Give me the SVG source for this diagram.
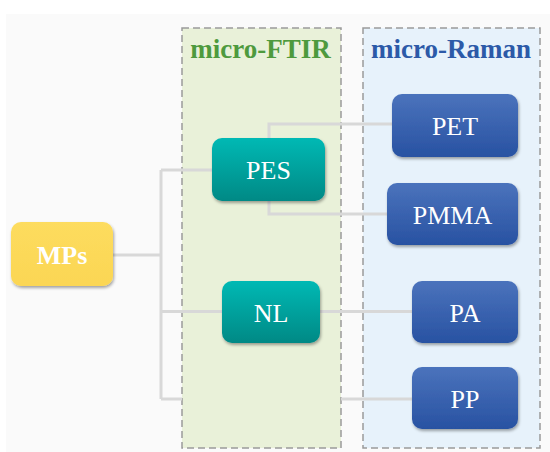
<svg xmlns="http://www.w3.org/2000/svg" width="550" height="452" viewBox="0 0 550 452">
  <defs>
    <linearGradient id="gTeal" x1="0" y1="0" x2="0" y2="1">
      <stop offset="0" stop-color="#00b9b4"/>
      <stop offset="1" stop-color="#008985"/>
    </linearGradient>
    <linearGradient id="gBlue" x1="0" y1="0" x2="0" y2="1">
      <stop offset="0" stop-color="#4b73bc"/>
      <stop offset="1" stop-color="#2852a2"/>
    </linearGradient>
    <linearGradient id="gYellow" x1="0" y1="0" x2="0" y2="1">
      <stop offset="0" stop-color="#fddc5e"/>
      <stop offset="1" stop-color="#fbd654"/>
    </linearGradient>
    <filter id="shadow" x="-10%" y="-10%" width="125%" height="130%">
      <feDropShadow dx="1" dy="2" stdDeviation="1.5" flood-color="#000" flood-opacity="0.35"/>
    </filter>
  </defs>
  <style>
    .panel { stroke: #9a9a9a; stroke-width: 1.5; stroke-dasharray: 7 4; }
    .title { font-family: "Liberation Serif", "Times New Roman", serif; font-weight: bold; font-size: 27px; text-anchor: middle; }
    .node rect { filter: url(#shadow); }
    .label { font-family: "Liberation Serif", "Times New Roman", serif; font-size: 26px; fill: #ffffff; text-anchor: middle; }
    .conn { fill: none; stroke: #d8d8d8; stroke-width: 3; }
  </style>

  <rect x="6" y="14" width="544" height="438" fill="#fafafa"/>

  <g id="panel-ftir">
    <rect class="panel" x="182" y="28" width="159" height="420" fill="#e9f1d9"/>
    <text class="title" x="260.5" y="58" fill="#4e9a3e">micro-FTIR</text>
  </g>
  <g id="panel-raman">
    <rect class="panel" x="363" y="28" width="177" height="420" fill="#e7f2fb"/>
    <text class="title" x="451" y="58" fill="#2c5aa8">micro-Raman</text>
  </g>

  <g id="connectors">
    <path class="conn" d="M113,255 H161 M161,170 V399 M161,170 H212 M161,311.5 H222 M161,399 H182 M341,399 H412"/>
    <path class="conn" d="M269,139 V124 H392"/>
    <path class="conn" d="M269,201 V214 H387"/>
    <path class="conn" d="M320,311.5 H412"/>
  </g>

  <g id="MPs" class="node">
    <rect x="11" y="222" width="102" height="64" rx="10" fill="url(#gYellow)"/>
    <text class="label" x="62" y="264" font-weight="bold">MPs</text>
  </g>
  <g id="PES" class="node">
    <rect x="212" y="138" width="113" height="63" rx="10" fill="url(#gTeal)"/>
    <text class="label" x="268.5" y="179">PES</text>
  </g>
  <g id="NL" class="node">
    <rect x="222" y="281" width="98" height="62" rx="10" fill="url(#gTeal)"/>
    <text class="label" x="271" y="322">NL</text>
  </g>
  <g id="PET" class="node">
    <rect x="392" y="94" width="126" height="63" rx="10" fill="url(#gBlue)"/>
    <text class="label" x="455" y="135">PET</text>
  </g>
  <g id="PMMA" class="node">
    <rect x="387" y="183" width="131" height="62" rx="10" fill="url(#gBlue)"/>
    <text class="label" x="452.5" y="224">PMMA</text>
  </g>
  <g id="PA" class="node">
    <rect x="412" y="281" width="106" height="62" rx="10" fill="url(#gBlue)"/>
    <text class="label" x="465" y="322">PA</text>
  </g>
  <g id="PP" class="node">
    <rect x="412" y="367" width="106" height="62" rx="10" fill="url(#gBlue)"/>
    <text class="label" x="465" y="408">PP</text>
  </g>
</svg>
